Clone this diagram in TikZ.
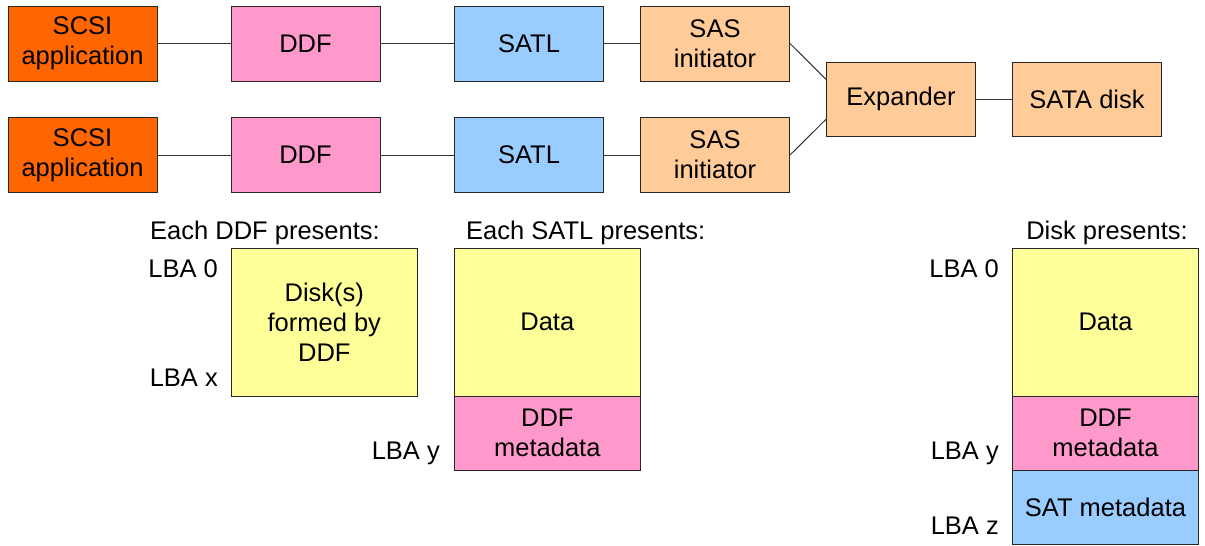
\documentclass[tikz,border=0pt]{standalone}
\usepackage{fontspec}
\setmainfont{Liberation Sans}
\definecolor{scsiorange}{HTML}{FF6600}
\definecolor{ddfpink}{HTML}{FF99CC}
\definecolor{satlblue}{HTML}{99CCFF}
\definecolor{sastan}{HTML}{FFCC99}
\definecolor{datayellow}{HTML}{FFFF99}
\begin{document}
\begin{tikzpicture}[x=1pt,y=-1pt,
  every node/.style={font=\fontsize{25.5}{30}\selectfont},
  blk/.style={draw=black!85, line width=1pt, align=center, inner sep=0pt,
    minimum width=149pt, minimum height=75pt},
  seg/.style={draw=black!85, line width=1pt, align=center, inner sep=0pt,
    minimum width=186pt},
  lbl/.style={inner sep=0pt, anchor=base east},
  link/.style={draw=black!80, line width=1pt}]
\useasboundingbox (0,0) rectangle (1205,546);
% top row
\node[blk, fill=scsiorange] (scsi1) at (82.5,43.5) {SCSI\\application};
\node[blk, fill=ddfpink] (ddf1) at (305.5,43.5) {DDF};
\node[blk, fill=satlblue] (satl1) at (529,43.5) {SATL};
\node[blk, fill=sastan] (sas1) at (715,43.5) {SAS\\initiator};
% bottom row
\node[blk, fill=scsiorange] (scsi2) at (82.5,155) {SCSI\\application};
\node[blk, fill=ddfpink] (ddf2) at (305.5,155) {DDF};
\node[blk, fill=satlblue] (satl2) at (529,155) {SATL};
\node[blk, fill=sastan] (sas2) at (715,155) {SAS\\initiator};
% expander and disk
\node[blk, fill=sastan, minimum height=74pt] (exp) at (901,99.3) {Expander};
\node[blk, fill=sastan, minimum height=74pt] (sata) at (1087,99.3) {SATA disk};
% connectors
\draw[link] (scsi1.east) -- (ddf1.west);
\draw[link] (ddf1.east) -- (satl1.west);
\draw[link] (satl1.east) -- (sas1.west);
\draw[link] (scsi2.east) -- (ddf2.west);
\draw[link] (ddf2.east) -- (satl2.west);
\draw[link] (satl2.east) -- (sas2.west);
\draw[link] (sas1.east) -- ([yshift=20pt]exp.west);
\draw[link] (sas2.east) -- ([yshift=-20pt]exp.west);
\draw[link] (exp.east) -- (sata.west);
% headings
\node[inner sep=0pt, anchor=base west] (hddf) at (150,239) {Each DDF presents:};
\node[inner sep=0pt, anchor=base west] (hsatl) at (466,239) {Each SATL presents:};
\node[inner sep=0pt, anchor=base east] (hdisk) at (1188,239) {Disk presents:};
% DDF presents
\node[seg, fill=datayellow, minimum height=147.7pt] (ddfdisk) at (324.3,322.2) {Disk(s)\\formed by\\DDF};
\node[lbl] (l0a) at (218,277) {LBA 0};
\node[lbl] (lxa) at (218,386) {LBA x};
% SATL presents
\node[seg, fill=datayellow, minimum height=147.7pt] (sdata) at (547.3,322.2) {Data};
\node[seg, fill=ddfpink, minimum height=74pt] (smeta) at (547.3,433) {DDF\\metadata};
\node[lbl] (lyb) at (440,459) {LBA y};
% Disk presents
\node[seg, fill=datayellow, minimum height=147.7pt] (ddata) at (1105.5,322.2) {Data};
\node[seg, fill=ddfpink, minimum height=74.3pt] (dmeta) at (1105.5,433.2) {DDF\\metadata};
\node[seg, fill=satlblue, minimum height=74.7pt] (dsat) at (1105.5,507.6) {SAT metadata};
\node[lbl] (l0c) at (999,277) {LBA 0};
\node[lbl] (lyc) at (999,459) {LBA y};
\node[lbl] (lzc) at (999,534) {LBA z};
\end{tikzpicture}
\end{document}
